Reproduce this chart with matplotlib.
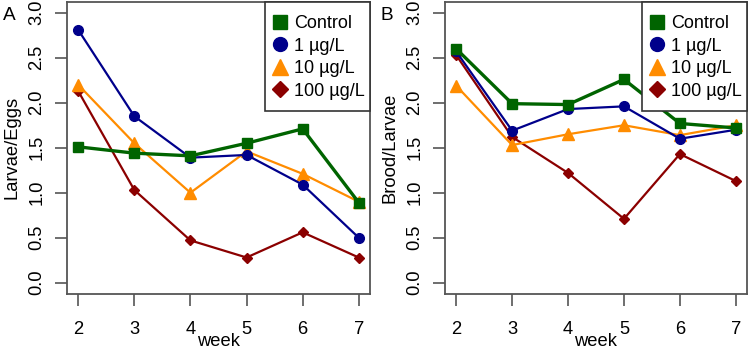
import matplotlib
matplotlib.use("Agg")
import matplotlib.pyplot as plt
from matplotlib.lines import Line2D
from matplotlib.patches import Rectangle

plt.rcParams['font.family'] = ['Liberation Sans', 'DejaVu Sans']

weeks = [2, 3, 4, 5, 6, 7]
groups = ["Control", "1 µg/L", "10 µg/L", "100 µg/L"]

# panel A: larvae per egg
larvae_eggs = {
    "Control": [1.51, 1.44, 1.41, 1.55, 1.71, 0.89],
    "1 µg/L": [2.81, 1.85, 1.39, 1.42, 1.09, 0.50],
    "10 µg/L": [2.20, 1.55, 1.00, 1.46, 1.21, 0.90],
    "100 µg/L": [2.13, 1.03, 0.47, 0.28, 0.56, 0.28],
}
# panel B: brood per larva
brood_larvae = {
    "Control": [2.60, 1.99, 1.98, 2.26, 1.77, 1.72],
    "1 µg/L": [2.57, 1.69, 1.93, 1.96, 1.60, 1.70],
    "10 µg/L": [2.19, 1.53, 1.65, 1.75, 1.64, 1.75],
    "100 µg/L": [2.53, 1.62, 1.22, 0.71, 1.43, 1.13],
}

colors = {"Control": "#006400", "1 µg/L": "#00008B",
          "10 µg/L": "#FF8C00", "100 µg/L": "#8B0000"}
markers = {"Control": "s", "1 µg/L": "o", "10 µg/L": "^", "100 µg/L": "D"}
msize = {"Control": 7.5, "1 µg/L": 7, "10 µg/L": 8.5, "100 µg/L": 5.5}
lsize = {"Control": 10, "1 µg/L": 10, "10 µg/L": 12, "100 µg/L": 8}
lwidth = {"Control": 2.4, "1 µg/L": 1.6, "10 µg/L": 1.6, "100 µg/L": 1.6}

W, H = 749, 350
fig = plt.figure(figsize=(W / 100, H / 100), dpi=100)
fs = 13.2
box = "#555555"


def panel(left, right, data, ylabel, letter):
    aw, ah = right - left, 291.5
    ax = fig.add_axes([left / W, (H - 293.5) / H, aw / W, ah / H])
    for g in ["100 µg/L", "10 µg/L", "1 µg/L", "Control"]:
        ax.plot(weeks, data[g], color=colors[g], lw=lwidth[g],
                marker=markers[g], ms=msize[g], mec=colors[g])
    ax.set_xlim(1.8, 7.2)
    ax.set_ylim(-0.12, 3.12)
    ax.set_xticks(weeks)
    ax.set_yticks([0, 0.5, 1, 1.5, 2, 2.5, 3])
    ax.set_yticklabels(["0.0", "0.5", "1.0", "1.5", "2.0", "2.5", "3.0"],
                       rotation=90, va="center")
    ax.tick_params(length=8.5, width=1.2, color=box, labelsize=fs)
    ax.tick_params(axis="x", pad=11)
    ax.tick_params(axis="y", pad=7)
    for s in ax.spines.values():
        s.set_color(box)
        s.set_linewidth(1.3)
    ax.set_xlabel("week", fontsize=fs, va="center")
    ax.xaxis.set_label_coords(0.5, (293.5 - 341) / ah)
    ax.set_ylabel(ylabel, fontsize=fs, va="center")
    ax.yaxis.set_label_coords(-55 / aw, 0.5)
    fig.text((left - 58) / W, (H - 16) / H, letter, fontsize=fs + 0.5,
             ha="center", va="center")

    # legend frame in the top right corner
    fx = (aw - 105) / aw
    fy = (293.5 - 111) / ah
    ax.add_patch(Rectangle((fx, fy), 1 - fx, 1 - fy, transform=ax.transAxes,
                           facecolor="white", edgecolor="#333333", lw=1.2,
                           zorder=5, clip_on=False))
    handles = [Line2D([], [], ls="none", marker=markers[g], ms=lsize[g],
                      color=colors[g], label=g) for g in groups]
    leg = ax.legend(handles=handles, loc="center",
                    bbox_to_anchor=((aw - 52) / aw, (293.5 - 57.5) / ah),
                    frameon=False, fontsize=13, handlelength=1.0,
                    handletextpad=0.3, labelspacing=0.3, borderpad=0)
    leg.set_zorder(6)
    return ax


panel(67, 370, larvae_eggs, "Larvae/Eggs", "A")
panel(445, 747, brood_larvae, "Brood/Larvae", "B")

fig.savefig("out.png", dpi=100)
